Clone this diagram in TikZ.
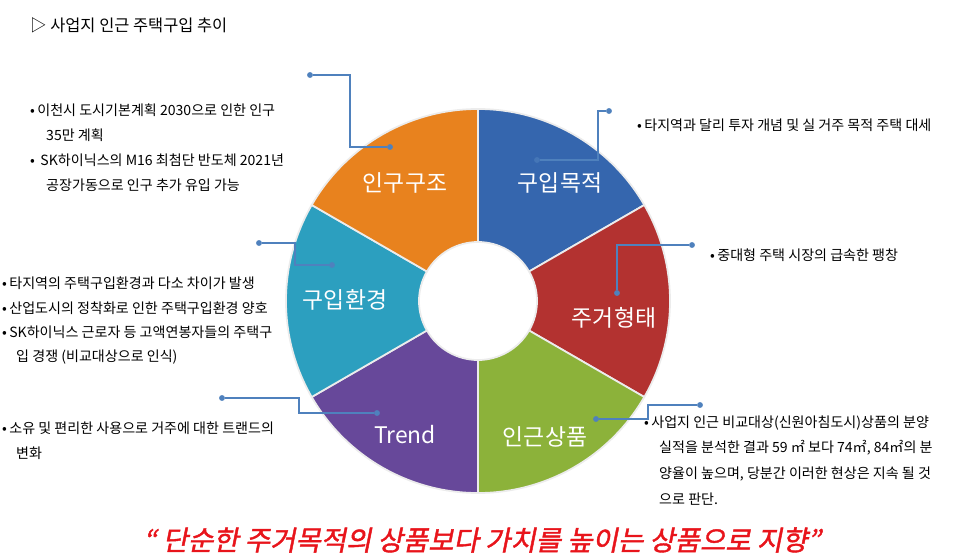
\documentclass[tikz,border=0pt]{standalone}
\usepackage{fontspec}
\setmainfont{Noto Sans CJK KR}
\newfontfamily\quotefont[FakeSlant=0.2,FakeBold=1.5]{Noto Sans CJK KR}
\usetikzlibrary{positioning}
\definecolor{segorange}{HTML}{E8821E}
\definecolor{segblue}{HTML}{3566AE}
\definecolor{segred}{HTML}{B33230}
\definecolor{seggreen}{HTML}{8CB23A}
\definecolor{segpurple}{HTML}{67489A}
\definecolor{segteal}{HTML}{2C9FBF}
\definecolor{callout}{HTML}{4F81BD}
\definecolor{quotered}{HTML}{E8141B}
\tikzset{
  note/.style={anchor=west,font=\fontsize{12}{14}\selectfont,inner sep=0pt},
  seglabel/.style={text=white,font=\fontsize{19.5}{21}\selectfont},
  lead/.style={callout,line width=1.6pt},
  dot/.style={circle,fill=callout,inner sep=0pt,minimum size=5pt}
}
\newcommand{\bul}{•\,}
\begin{document}
\begin{tikzpicture}[x=0.03cm,y=-0.03cm]
  \useasboundingbox (0,0) rectangle (966,559);
  % donut
  \begin{scope}[shift={(478,301)}]
    \foreach \a/\col in {90/segblue,30/segred,-30/seggreen,-90/segpurple,-150/segteal,150/segorange}
      \filldraw [fill=\col,draw=white!85!gray,line width=1.5pt]
        (\a:5.76cm) arc (\a:\a-60:5.76cm) -- (\a-60:1.77cm) arc (\a-60:\a:1.77cm) -- cycle;
  \end{scope}
  \node [seglabel] (inguJo) at (405,183) {인구구조};
  \node [seglabel] (guipMok) at (560,183) {구입목적};
  \node [seglabel] (jugeo) at (614,318) {주거형태};
  \node [seglabel] (ingeun) at (545,437) {인근상품};
  \node [seglabel] (trend) at (405,435) {Trend};
  \node [seglabel] (guipHwan) at (345,300) {구입환경};
  % title and quote
  \node [note,font=\fontsize{14}{16}\selectfont] (title) at (30,25) {▷ 사업지 인근 주택구입 추이};
  \node [text=quotered,font=\fontsize{23.5}{26}\quotefont] (quote) at (482,540)
    {“ 단순한 주거목적의 상품보다 가치를 높이는 상품으로 지향”};
  % notes
  \node [note] (n1) at (30,110) {\bul 이천시 도시기본계획 2030으로 인한 인구};
  \node [note] (n1b) at (46,135) {35만 계획};
  \node [note] (n2) at (30,160) {\bul~SK하이닉스의 M16 최첨단 반도체 2021년};
  \node [note] (n2b) at (46,185) {공장가동으로 인구 추가 유입 가능};
  \node [note] (n3) at (637,125) {\bul 타지역과 달리 투자 개념 및 실 거주 목적 주택 대세};
  \node [note] (n4) at (710,255) {\bul 중대형 주택 시장의 급속한 팽창};
  \node [note] (n5) at (2,283) {\bul 타지역의 주택구입환경과 다소 차이가 발생};
  \node [note] (n5b) at (2,308) {\bul 산업도시의 정착화로 인한 주택구입환경 양호};
  \node [note] (n5c) at (2,332) {\bul SK하이닉스 근로자 등 고액연봉자들의 주택구};
  \node [note] (n5d) at (16,357) {입 경쟁 (비교대상으로 인식)};
  \node [note] (n6) at (2,428) {\bul 소유 및 편리한 사용으로 거주에 대한 트랜드의};
  \node [note] (n6b) at (16,453) {변화};
  \node [note] (n7) at (644,423) {\bul 사업지 인근 비교대상(신원아침도시)상품의 분양};
  \node [note] (n7b) at (659,448) {실적을 분석한 결과 59 ㎡ 보다 74㎡, 84㎡의 분};
  \node [note] (n7c) at (659,474) {양율이 높으며, 당분간 이러한 현상은 지속 될 것};
  \node [note] (n7d) at (659,499) {으로 판단.};
  % callouts
  \node [dot] (c1a) at (310,75) {};
  \node [dot] (c1b) at (390,147) {};
  \draw [lead] (c1a) -- (350,75) |- (c1b);
  \node [dot] (c2a) at (609,111) {};
  \node [dot,fill=callout!60!segblue] (c2b) at (537,160) {};
  \draw [lead] (c2a) -- (598,111) |- (c2b);
  \node [dot] (c3a) at (692,245) {};
  \node [dot] (c3b) at (617,293) {};
  \draw [lead] (c3a) -| (c3b);
  \node [dot] (c4a) at (259,243) {};
  \node [dot] (c4b) at (332,265) {};
  \draw [lead] (c4a) -- (295,243) |- (c4b);
  \node [dot] (c5a) at (222,398) {};
  \node [dot] (c5b) at (377,413) {};
  \draw [lead] (c5a) -- (299,398) |- (c5b);
  \node [dot] (c6a) at (700,405) {};
  \node [dot] (c6b) at (596,419) {};
  \draw [lead] (c6a) -- (648,405) |- (c6b);
\end{tikzpicture}
\end{document}
